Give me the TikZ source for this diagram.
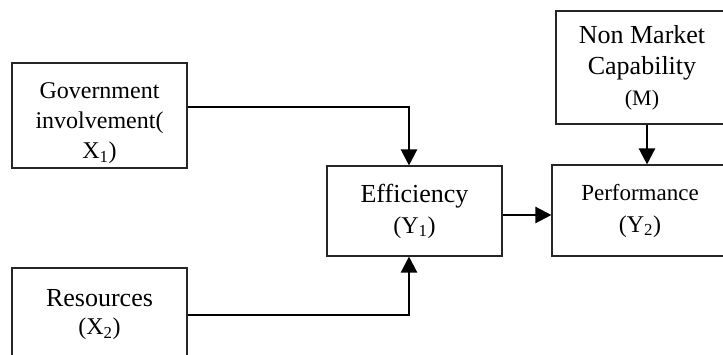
\documentclass[tikz,border=0pt]{standalone}
\usepackage{fontspec}
\setmainfont{Liberation Serif}
\usetikzlibrary{arrows.meta}
\begin{document}
\begin{tikzpicture}[x=1pt,y=-1pt,
  box/.style={draw=black!85,line width=1.1pt,rectangle,align=center,inner sep=0pt},
  txt/.style={align=center,inner sep=0pt},
  conn/.style={draw=black,line width=2.3pt,-{Triangle[width=16pt,length=16pt]}}]
\useasboundingbox (0,0) rectangle (723,355);
\clip (0,0) rectangle (723,355);
\node[box,minimum width=175pt,minimum height=105pt] (gov) at (99.5,115.5) {};
\node[txt,font=\fontsize{24}{30}\selectfont] (govtext) at (99.5,123)
  {Government\\involvement(\\X\textsubscript{1})};
\node[box,minimum width=175pt,minimum height=94pt,font=\fontsize{26}{28}\selectfont] (res) at (99.5,315)
  {Resources\\{\fontsize{24}{28}\selectfont(X\textsubscript{2})}};
\node[box,minimum width=175pt,minimum height=90pt,font=\fontsize{26}{31}\selectfont] (eff) at (414.5,211)
  {Efficiency\\{\fontsize{24}{31}\selectfont(Y\textsubscript{1})}};
\node[box,minimum width=176pt,minimum height=91pt,font=\fontsize{23}{32}\selectfont] (perf) at (640,210.5)
  {Performance\\{\fontsize{24}{32}\selectfont(Y\textsubscript{2})}};
\node[box,minimum width=172pt,minimum height=113pt,font=\fontsize{26}{31}\selectfont] (nm) at (642,67.5)
  {Non Market\\Capability\\{\fontsize{22}{31}\selectfont(M)}};
\coordinate (g1) at ([yshift=8.5pt]gov.east);
\coordinate (g2) at ([xshift=-5.5pt]eff.north);
\coordinate (r2) at ([xshift=-5.5pt]eff.south);
\coordinate (e1) at ([yshift=-4pt]eff.east);
\coordinate (m1) at ([xshift=5pt]nm.south);
\draw[conn] (g1) -| (g2);
\draw[conn] (res.east) -| (r2);
\draw[conn] (e1) -- (e1 -| perf.west);
\draw[conn] (m1) -- (m1 |- perf.north);
\end{tikzpicture}
\end{document}
